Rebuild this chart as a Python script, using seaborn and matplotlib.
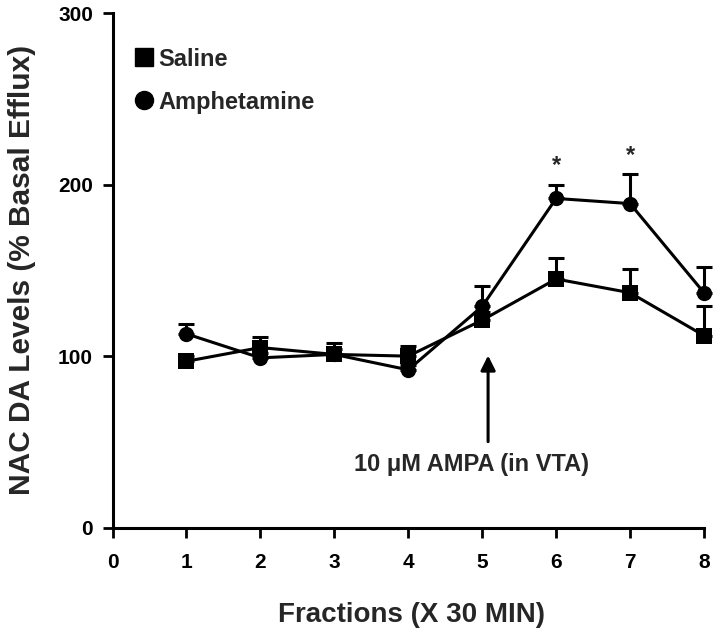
import numpy as np
import pandas as pd
import matplotlib
matplotlib.use("Agg")
import matplotlib.pyplot as plt
from matplotlib.lines import Line2D
import seaborn as sns

# valeurs
fractions = [1, 2, 3, 4, 5, 6, 7, 8]
saline_mean = [97, 105, 101, 100, 121, 145, 137, 112]
saline_sem = [3, 6, 6.5, 6, 5, 12, 14, 17.5]
amph_mean = [113, 99, 101, 92, 129, 192, 189, 137]
amph_sem = [6, 3, 3, 3, 12, 8, 17, 15]
groups = ["Saline", "Amphetamine"]
signif_fractions = [6, 7]
x_ticks = [0, 1, 2, 3, 4, 5, 6, 7, 8]
y_ticks = [0, 100, 200, 300]

df = pd.DataFrame({
    "fraction": fractions * 2,
    "level": saline_mean + amph_mean,
    "group": ["Saline"] * 8 + ["Amphetamine"] * 8,
})

sns.set_theme(style="ticks")
plt.rcParams["font.family"] = ["Liberation Sans", "DejaVu Sans"]
plt.rcParams["font.weight"] = "bold"

fig = plt.figure(figsize=(7.2, 6.32), dpi=100)
ax = fig.add_axes([0.15625, 0.1653, 0.8215, 0.8136])

# barres d'erreur (vers le haut seulement)
for mean, sem in [(saline_mean, saline_sem), (amph_mean, amph_sem)]:
    eb = ax.errorbar(fractions, mean, yerr=[np.zeros(len(sem)), sem], fmt="none",
                     ecolor="black", elinewidth=2.2, capsize=5.5, capthick=2.2, zorder=2)
    for art in eb.lines[1] + eb.lines[2]:
        art.set_clip_on(False)

sns.lineplot(data=df, x="fraction", y="level", hue="group", style="group",
             hue_order=groups, style_order=groups,
             palette={"Saline": "black", "Amphetamine": "black"},
             markers={"Saline": "s", "Amphetamine": "o"}, dashes=False,
             markersize=11, markeredgewidth=0, linewidth=2.2,
             legend=False, ax=ax, zorder=3)
for ln in ax.lines:
    ln.set_clip_on(False)

# astérisques
for f in signif_fractions:
    i = fractions.index(f)
    ax.text(f, amph_mean[i] + amph_sem[i] + 11, "*", ha="center", va="center",
            fontsize=17, fontweight="bold")

# flèche AMPA
ax.annotate("", xy=(5.08, 102), xytext=(5.08, 48.5),
            arrowprops=dict(arrowstyle="-|>", lw=2.2, color="black", mutation_scale=22))
ax.text(4.86, 37, "10 \u03bcM AMPA (in VTA)", ha="center", va="center",
        fontsize=17, fontweight="bold")

# légende
handles = [Line2D([], [], marker="s", color="black", linestyle="none", markersize=13),
           Line2D([], [], marker="o", color="black", linestyle="none", markersize=13)]
leg = ax.legend(handles, groups, loc="center left", bbox_to_anchor=(0.038, 0.869),
                frameon=False, fontsize=17, handlelength=0.8, handletextpad=0.2,
                labelspacing=0.85, borderpad=0, borderaxespad=0)
for t in leg.get_texts():
    t.set_fontweight("bold")

ax.set_xlim(0, 8)
ax.set_ylim(0, 300)
ax.set_xticks(x_ticks)
ax.set_yticks(y_ticks)
ax.tick_params(axis="both", direction="out", length=7, width=2, labelsize=15, colors="black")
ax.tick_params(axis="x", pad=11)
ax.tick_params(axis="y", pad=7)
for lab in ax.get_xticklabels() + ax.get_yticklabels():
    lab.set_fontweight("bold")
sns.despine(ax=ax)
for s in ["left", "bottom"]:
    ax.spines[s].set_linewidth(2.2)
    ax.spines[s].set_color("black")

ax.set_xlabel("Fractions (X 30 MIN)", fontsize=20, fontweight="bold")
ax.set_ylabel("NAC DA Levels (% Basal Efflux)", fontsize=21.5, fontweight="bold")
ax.xaxis.label.set_va("center")
ax.yaxis.label.set_va("center")
ax.xaxis.set_label_coords(0.506, -0.170)
ax.yaxis.set_label_coords(-0.153, 0.5)

fig.savefig("out.png", dpi=100)
